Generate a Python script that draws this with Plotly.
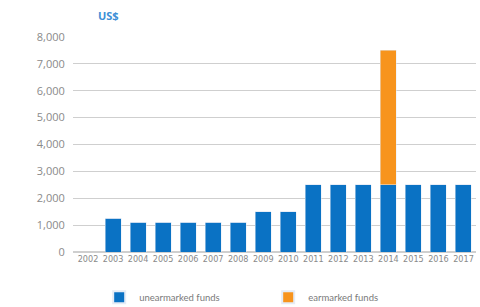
import plotly.graph_objects as go

years = [str(y) for y in range(2002, 2018)]
unearmarked = [0, 1250, 1100, 1100, 1100, 1100, 1100, 1500, 1500, 2500, 2500, 2500, 2500, 2500, 2500, 2500]
earmarked = [0, 0, 0, 0, 0, 0, 0, 0, 0, 0, 0, 0, 5000, 0, 0, 0]
yticks = [0, 1000, 2000, 3000, 4000, 5000, 6000, 7000, 8000]
ytick_text = ["0", "1,000", "2,000", "3,000", "4,000", "5,000", "6,000", "7,000", "8,000"]

blue = "#0a72c4"
orange = "#f7941d"

fig = go.Figure()
fig.add_trace(go.Bar(x=years, y=unearmarked, name="unearmarked funds", marker_color=blue))
fig.add_trace(go.Bar(x=years, y=earmarked, name="earmarked funds", marker_color=orange))

fig.update_layout(
    width=480, height=307,
    barmode="stack", bargap=0.36,
    margin=dict(l=73, r=4, t=37, b=55, autoexpand=False),
    plot_bgcolor="white", paper_bgcolor="white",
    font=dict(family="Open Sans, sans-serif", color="#8a8a8a", size=11),
    showlegend=True,
    legend=dict(orientation="h", x=0.065, xanchor="left", y=-0.21, yanchor="middle",
                traceorder="normal",
                font=dict(family="Lato, sans-serif", size=9.5, color="#7a7a7a"),
                entrywidth=124, itemsizing="constant"),
    xaxis=dict(type="category", range=[-0.6, 15.5], showgrid=False, showline=False,
               automargin=False,
               tickfont=dict(family="Liberation Sans Narrow, DejaVu Sans Condensed, sans-serif", size=9, color="#8a8a8a"),
               ticks=""),
    yaxis=dict(range=[0, 8000], tickvals=yticks, ticktext=ytick_text, showgrid=True,
               automargin=False,
               gridcolor="#cfcfcf", gridwidth=1, zeroline=True, zerolinecolor="#cfcfcf",
               ticks="outside", ticklen=5, tickcolor="white", showline=False,
               tickfont=dict(size=11, color="#8a8a8a")),
    annotations=[dict(text="<b>US$</b>", xref="paper", yref="paper", x=0.12, y=1.10,
                      xanchor="right", yanchor="middle", showarrow=False,
                      font=dict(size=11, color="#3d8fd6"))],
)

fig.write_html("out.html", post_script="document.body.style.margin='0';",
               config={"displayModeBar": False})
